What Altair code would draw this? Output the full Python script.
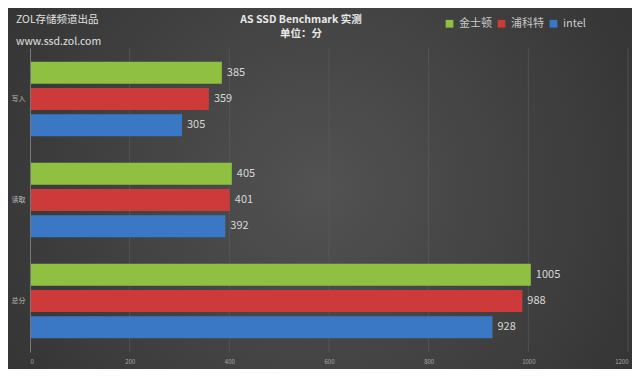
import altair as alt
import pandas as pd

categories = ["写入", "读取", "总分"]
series = ["金士顿", "浦科特", "intel"]
kingston = [385, 405, 1005]
plextor = [359, 401, 988]
intel = [305, 392, 928]
colors = ["#8fc042", "#cc3a3a", "#3a78c6"]
ticks = [0, 200, 400, 600, 800, 1000, 1200]
title_lines = ["AS SSD Benchmark 实测", "单位：分"]
header_lines = ["ZOL存储频道出品", "www.ssd.zol.com"]

rows = []
for i, c in enumerate(categories):
    for s, vals in zip(series, [kingston, plextor, intel]):
        rows.append({"cat": c, "series": s, "value": vals[i]})
df = pd.DataFrame(rows)

W, H = 598, 304
FONT = "Noto Sans CJK SC"

x_scale = alt.Scale(domain=[0, 1200], nice=False)
y_enc = alt.Y("cat:N", sort=categories, title=None,
              scale=alt.Scale(paddingInner=0.27, paddingOuter=0.14),
              axis=alt.Axis(labelColor="#bbbbbb", labelFontSize=7, ticks=False,
                            domainColor="#777777", labelPadding=5, labelFont=FONT,
                            zindex=1))
yo_enc = alt.YOffset("series:N", sort=series,
                     scale=alt.Scale(paddingInner=0.18, paddingOuter=0.0))
x_enc = alt.X("value:Q", title=None, scale=x_scale,
              axis=alt.Axis(values=ticks, format="d",
                            labelColor="#aaaaaa", labelFontSize=6, ticks=False,
                            domain=False, grid=False, labelPadding=6, labelFont=FONT,
                            zindex=1))
color_enc = alt.Color("series:N", sort=series,
                      scale=alt.Scale(domain=series, range=colors),
                      legend=alt.Legend(title=None, orient="none", direction="horizontal",
                                        legendX=414, legendY=-30, symbolType="square",
                                        symbolSize=60, symbolStrokeWidth=0,
                                        labelColor="#c8c8c8", labelFontSize=11,
                                        labelFont=FONT, columnPadding=4,
                                        symbolOpacity=1))

bg = alt.Chart(pd.DataFrame({"a": [0]})).mark_rect(
    fill=alt.Gradient(gradient="radial", x1=0.5, y1=0.5, x2=0.5, y2=0.5, r1=0, r2=0.75,
                      stops=[alt.GradientStop(color="#525252", offset=0),
                             alt.GradientStop(color="#2c2c2c", offset=1)])
).encode(x=alt.value(-22), x2=alt.value(602), y=alt.value(-40), y2=alt.value(321))

grid = alt.Chart(pd.DataFrame({"t": ticks[1:]})).mark_rule(
    color="#5a5a5a", strokeWidth=0.7
).encode(x=alt.X("t:Q", scale=x_scale), y=alt.value(0), y2=alt.value(H))

bars = alt.Chart(df).mark_bar(size=22).encode(
    y=y_enc, yOffset=yo_enc, x=x_enc, color=color_enc
)

labels = alt.Chart(df).mark_text(align="left", dx=5, fontSize=11, color="#d8d8d8",
                                 font=FONT).encode(
    y=alt.Y("cat:N", sort=categories), yOffset=alt.YOffset("series:N", sort=series),
    x="value:Q", text="value:Q"
)

header = alt.Chart(pd.DataFrame({"t": header_lines, "yy": [-28, -6]})).mark_text(
    align="left", fontSize=10.5, color="#e0e0e0", font=FONT
).encode(text="t:N", x=alt.value(-14), y=alt.Y("yy:Q", scale=None))

title = alt.Chart(pd.DataFrame({"t": title_lines, "yy": [-28, -14]})).mark_text(
    align="center", fontSize=10.5, fontWeight="bold", color="#e8e8e8", font=FONT
).encode(text="t:N", x=alt.value(271), y=alt.Y("yy:Q", scale=None))

chart = alt.layer(bg, grid, bars, labels, header, title).properties(
    width=W, height=H,
    autosize=alt.AutoSizeParams(type="none"),
    padding={"left": 22, "top": 40, "right": 4, "bottom": 17},
    background="#333333",
).configure_view(stroke=None)

chart.save("out.html", embed_options={"renderer": "svg", "actions": False})
